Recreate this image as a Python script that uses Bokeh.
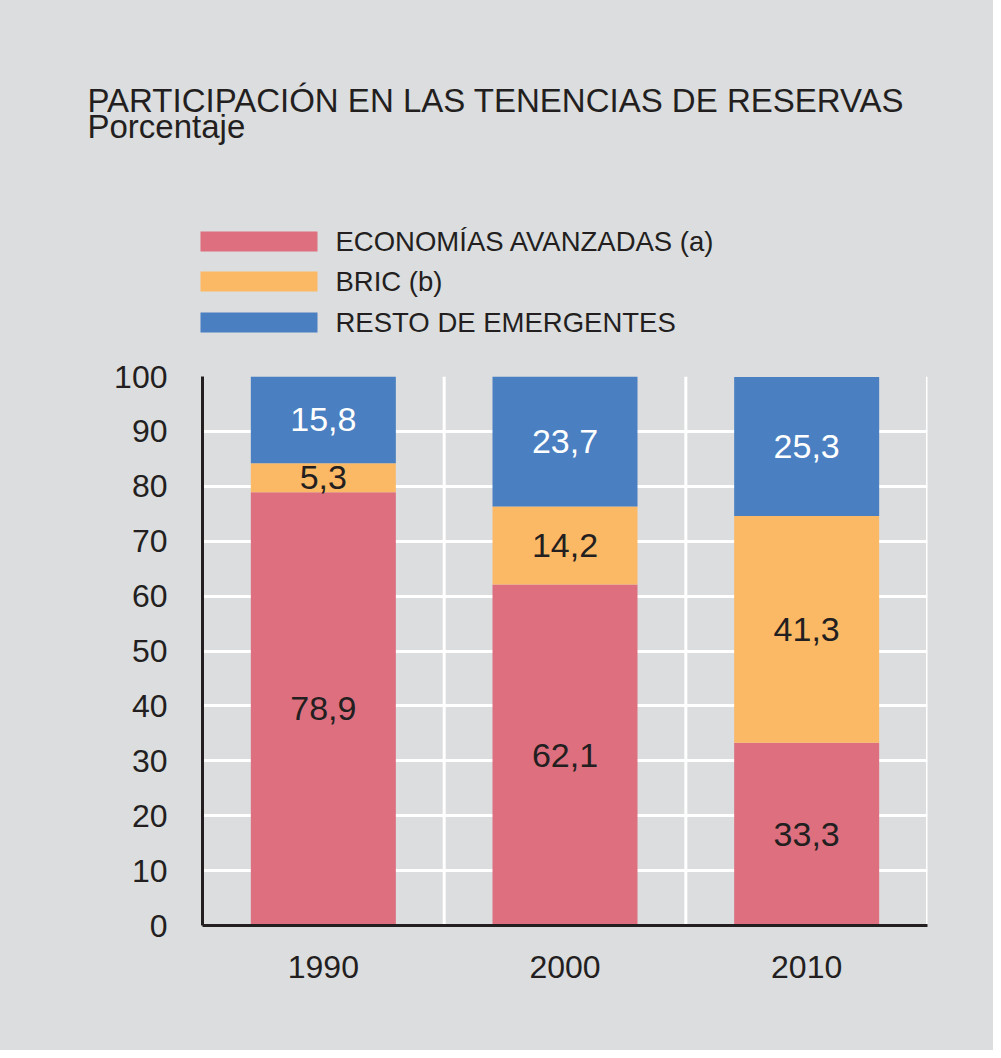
from bokeh.plotting import figure
from bokeh.layouts import column
from bokeh.models import FactorRange, Range1d, FixedTicker, Span, ColumnDataSource
from bokeh.core.properties import value
from bokeh.embed import file_html
from bokeh.resources import INLINE

# ---- data ----
years = ["1990", "2000", "2010"]
avanzadas = [78.9, 62.1, 33.3]
bric = [5.3, 14.2, 41.3]
resto = [15.8, 23.7, 25.3]
series_names = ["ECONOMÍAS AVANZADAS (a)", "BRIC (b)", "RESTO DE EMERGENTES"]
y_ticks = [0, 10, 20, 30, 40, 50, 60, 70, 80, 90, 100]
title_text = "PARTICIPACIÓN EN LAS TENENCIAS DE RESERVAS"
subtitle_text = "Porcentaje"

colors = ["#DD6F7F", "#FCB965", "#4A7FC1"]
label_colors = ["#231F20", "#231F20", "#FFFFFF"]
BG = "#DCDDDF"
INK = "#231F20"
FONT = "Liberation Sans"

W = 993
TOP_H = 350
CHART_H = 700

# ---- header figure (title + legend), pixel-like coordinates, y downward ----
head = figure(width=W, height=TOP_H, x_range=Range1d(0, W), y_range=Range1d(TOP_H, 0),
              output_backend="svg", toolbar_location=None,
              x_axis_location=None, y_axis_location=None,
              min_border=0, min_border_left=0, min_border_right=0,
              min_border_top=0, min_border_bottom=0)
head.frame_align = False
head.background_fill_color = BG
head.border_fill_color = BG
head.outline_line_color = None
head.grid.visible = False

head.text(x=[87, 87], y=[100, 126], text=[title_text, subtitle_text],
          text_font=value(FONT), text_font_size="33px", text_color=INK,
          text_baseline="middle", text_align="left")

sw_left, sw_right, sw_h = 200, 317, 20
sw_tops = [231, 271, 312]
head.quad(left=[sw_left] * 3, right=[sw_right] * 3, top=sw_tops,
          bottom=[t + sw_h for t in sw_tops], fill_color=colors, line_color=None)
head.text(x=[335] * 3, y=[t + sw_h / 2 for t in sw_tops], text=series_names,
          text_font=value(FONT), text_font_size="27.5px", text_color=INK,
          text_baseline="middle", text_align="left")

# ---- chart figure ----
p = figure(x_range=FactorRange(*years), y_range=Range1d(0, 100),
           width=W, height=CHART_H, output_backend="svg", toolbar_location=None,
           min_border_left=202, min_border_right=66, min_border_top=26,
           min_border_bottom=125)
p.frame_align = False
p.background_fill_color = BG
p.border_fill_color = BG
p.outline_line_color = None

p.xgrid.grid_line_color = None
p.ygrid.ticker = FixedTicker(ticks=y_ticks)
p.ygrid.grid_line_color = "white"
p.ygrid.grid_line_width = 3
for i in range(1, len(years) + 1):
    p.add_layout(Span(location=i, dimension="height", line_color="white",
                      line_width=3, level="underlay"))

src = ColumnDataSource(dict(x=years, a=avanzadas, b=bric, c=resto))
p.vbar_stack(["a", "b", "c"], x="x", width=0.6, color=colors, source=src,
             line_color=None)

bottoms = [0.0] * len(years)
for vals, col in zip([avanzadas, bric, resto], label_colors):
    mids = [b + v / 2 for b, v in zip(bottoms, vals)]
    texts = [f"{v:.1f}".replace(".", ",") for v in vals]
    p.text(x=years, y=mids, text=texts, text_align="center", text_baseline="middle",
           text_font=value(FONT), text_font_size="34px", text_color=col)
    bottoms = [b + v for b, v in zip(bottoms, vals)]

p.yaxis.ticker = FixedTicker(ticks=y_ticks)
for ax in (p.xaxis[0], p.yaxis[0]):
    ax.axis_line_color = INK
    ax.axis_line_width = 3
    ax.major_tick_line_color = None
    ax.minor_tick_line_color = None
    ax.major_tick_out = 0
    ax.major_tick_in = 0
    ax.major_label_text_font = FONT
    ax.major_label_text_font_size = "32px"
    ax.major_label_text_color = INK
p.yaxis.major_label_standoff = 35
p.xaxis.major_label_standoff = 30

layout = column(head, p, spacing=0, styles={"background-color": BG})
open("out.html", "w").write(file_html(layout, INLINE))
